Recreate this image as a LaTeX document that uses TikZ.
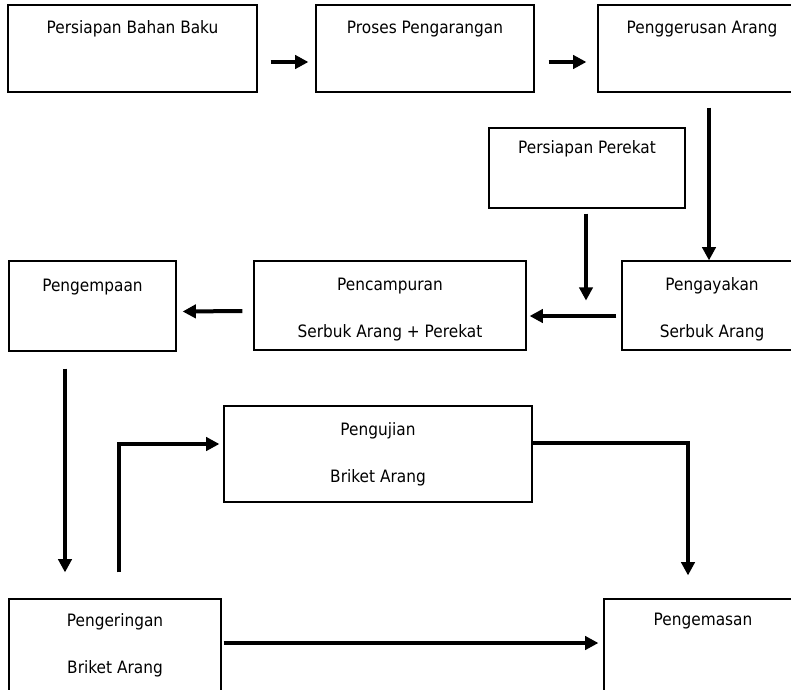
\documentclass[tikz,border=0pt]{standalone}
\usepackage{fontspec}
\setmainfont{DejaVu Sans}[FakeStretch=0.9]
\usetikzlibrary{arrows.meta,calc}
\newcommand{\ruang}{\rule{0pt}{15.5pt}}

\begin{document}
\begin{tikzpicture}[x=0.75pt,y=-0.75pt,>={Triangle[length=10pt,width=10pt]},
    proc/.style={draw,line width=0.9pt,align=center,inner sep=0pt,
      font=\fontsize{12.8}{35.25}\selectfont},
    wh/.style 2 args={minimum width=#1*0.75pt,minimum height=#2*0.75pt},
    flow/.style={->,line width=3pt}]
  \clip (0,0) rectangle (791,689);
  % baris atas
  \node[proc,wh={249}{87}] (bahan) at (132.5,48.5) {\ruang Persiapan Bahan Baku\\\vphantom{Ag}};
  \node[proc,wh={218}{87}] (arang) at (425,48.5) {\ruang Proses Pengarangan\\\vphantom{Ag}};
  \node[proc,wh={208}{87}] (gerus) at (702,48.5) {\ruang Penggerusan Arang\\\vphantom{Ag}};
  \node[proc,wh={196}{80}] (perekat) at (587,168) {\ruang Persiapan Perekat\\\vphantom{Ag}};
  % baris tengah
  \node[proc,wh={180}{89}] (ayak) at (712,305.5) {\ruang Pengayakan\\Serbuk Arang};
  \node[proc,wh={272}{89}] (campur) at (390,305.5) {\ruang Pencampuran\\Serbuk Arang + Perekat};
  \node[proc,wh={167}{90}] (kempa) at (92.5,306) {\ruang Pengempaan\\\vphantom{Ag}};
  % baris bawah
  \node[proc,wh={308}{96}] (uji) at (378,454) {Pengujian\\Briket Arang};
  \node[proc,wh={212}{92}] (kering) at (115,645) {Pengeringan\\Briket Arang};
  \node[proc,wh={198}{92}] (kemas) at (703,645) {Pengemasan\\\vphantom{Ag}};
  \coordinate (tuang) at ($(perekat.south)+(-1,92)$);

  \draw[flow] ($(bahan.east)+(13,13.5)$) -- ($(arang.west)+(-7,13.5)$);
  \draw[flow] ($(arang.east)+(14,13.5)$) -- ($(gerus.west)+(-11,13.5)$);
  \draw[flow] ($(gerus.south)+(7,15)$) -- ($(gerus.south |- ayak.north)+(7,0)$);
  \draw[flow] ($(perekat.south)+(-1,5)$) -- (tuang);
  \draw[flow] ($(ayak.west)+(-5,10.5)$) -- ($(campur.east)+(3,10.5)$);
  \draw[flow] ($(campur.west)+(-11,5.5)$) -- ($(kempa.east)+(6,5.5)$);
  \draw[flow] ($(kempa.south)+(-27.5,17)$) -- ($(kempa.south |- kering.north)+(-27.5,-26)$);
  \draw[flow] ($(kering.north)+(4,-26)$) |- ($(uji.west)+(-4,-10)$);
  \draw[flow] ($(uji.east)+(0,-11)$) -| ($(kemas.north)+(-15,-23)$);
  \draw[flow] ($(kering.east)+(2,-2)$) -- ($(kemas.west)+(-5,-2)$);
\end{tikzpicture}
\end{document}
